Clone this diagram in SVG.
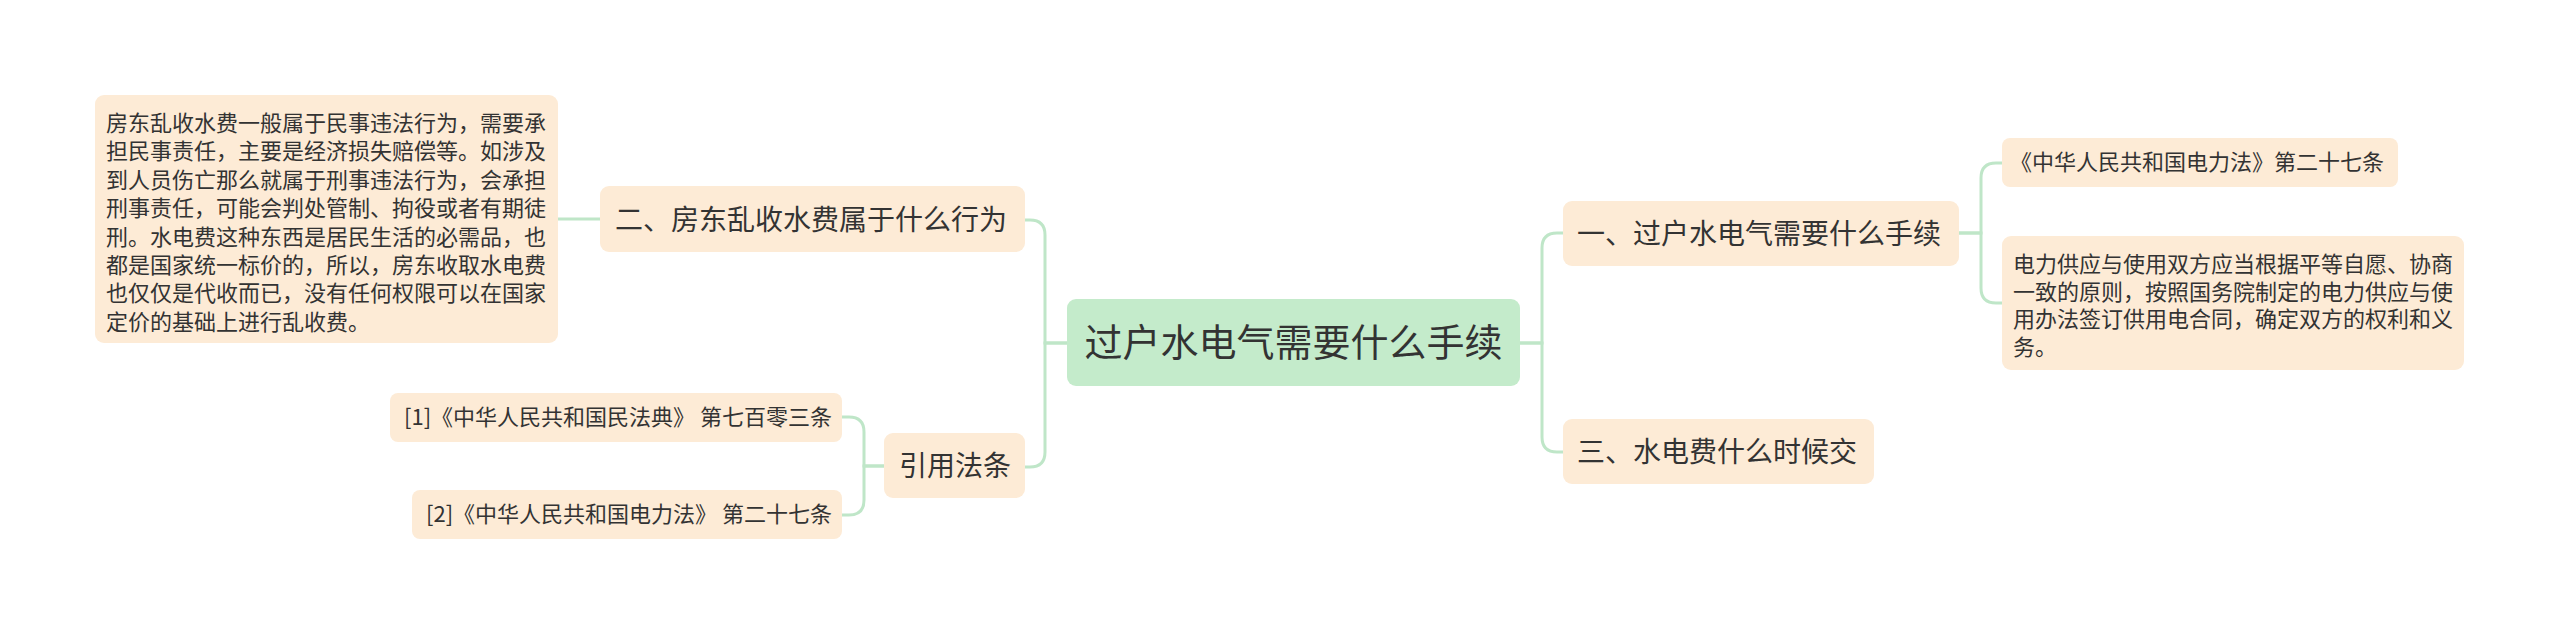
<svg xmlns="http://www.w3.org/2000/svg" width="2560" height="635" viewBox="0 0 2560 635">
<style>
.box{fill:#fdebd6;}
.root{fill:#c4ebcb;}
.t{font-family:"Noto Sans CJK SC","Noto Sans",sans-serif;fill:#333333;}
.s{font-size:22px;}
.m{font-size:28px;}
.l{font-size:38px;}
.c{fill:none;stroke:#bfe6c8;stroke-width:3;}
</style>
<rect width="2560" height="635" fill="#ffffff"/>
<g id="connectors">
<path class="c" d="M1067,343 H1045 V235 Q1045,220 1030,220 H1025"/>
<path class="c" d="M1067,343 H1045 V452 Q1045,467 1030,467 H1025"/>
<path class="c" d="M600,219 H558"/>
<path class="c" d="M884,466 H864 V432 Q864,417 849,417 H842"/>
<path class="c" d="M884,466 H864 V500 Q864,515 849,515 H842"/>
<path class="c" d="M1520,343 H1542 V248 Q1542,233 1557,233 H1563"/>
<path class="c" d="M1520,343 H1542 V437 Q1542,452 1557,452 H1563"/>
<path class="c" d="M1959,233 H1981 V178 Q1981,163 1996,163 H2002"/>
<path class="c" d="M1959,233 H1981 V288 Q1981,303 1996,303 H2002"/>
</g>
<g id="root">
<rect class="root" x="1067" y="299" width="453" height="87" rx="9"/>
<text class="t l" x="1293.5" y="356" text-anchor="middle">过户水电气需要什么手续</text>
</g>
<g id="n2">
<rect class="box" x="600" y="186" width="425" height="66" rx="9"/>
<text class="t m" x="615" y="230">二、房东乱收水费属于什么行为</text>
</g>
<g id="n2a">
<rect class="box" x="95" y="95" width="463" height="248" rx="9"/>
<text class="t s">
<tspan x="106" y="131">房东乱收水费一般属于民事违法行为，需要承</tspan>
<tspan x="106" y="159.4">担民事责任，主要是经济损失赔偿等。如涉及</tspan>
<tspan x="106" y="187.8">到人员伤亡那么就属于刑事违法行为，会承担</tspan>
<tspan x="106" y="216.2">刑事责任，可能会判处管制、拘役或者有期徒</tspan>
<tspan x="106" y="244.6">刑。水电费这种东西是居民生活的必需品，也</tspan>
<tspan x="106" y="273">都是国家统一标价的，所以，房东收取水电费</tspan>
<tspan x="106" y="301.4">也仅仅是代收而已，没有任何权限可以在国家</tspan>
<tspan x="106" y="329.8">定价的基础上进行乱收费。</tspan>
</text>
</g>
<g id="ref">
<rect class="box" x="884" y="433" width="141" height="65" rx="9"/>
<text class="t m" x="899" y="476">引用法条</text>
</g>
<g id="ref1">
<rect class="box" x="390" y="393" width="452" height="49" rx="8"/>
<text class="t s" x="832" y="425" text-anchor="end">[1]《中华人民共和国民法典》 第七百零三条</text>
</g>
<g id="ref2">
<rect class="box" x="412" y="490" width="430" height="49" rx="8"/>
<text class="t s" x="832" y="522" text-anchor="end">[2]《中华人民共和国电力法》 第二十七条</text>
</g>
<g id="n1">
<rect class="box" x="1563" y="201" width="396" height="65" rx="9"/>
<text class="t m" x="1577" y="244">一、过户水电气需要什么手续</text>
</g>
<g id="n3">
<rect class="box" x="1563" y="419" width="311" height="65" rx="9"/>
<text class="t m" x="1577" y="462">三、水电费什么时候交</text>
</g>
<g id="n1a">
<rect class="box" x="2002" y="138" width="396" height="49" rx="8"/>
<text class="t s" x="2010" y="170">《中华人民共和国电力法》第二十七条</text>
</g>
<g id="n1b">
<rect class="box" x="2002" y="236" width="462" height="134" rx="9"/>
<text class="t s">
<tspan x="2013" y="272">电力供应与使用双方应当根据平等自愿、协商</tspan>
<tspan x="2013" y="299.7">一致的原则，按照国务院制定的电力供应与使</tspan>
<tspan x="2013" y="327.4">用办法签订供用电合同，确定双方的权利和义</tspan>
<tspan x="2013" y="355">务。</tspan>
</text>
</g>
</svg>
